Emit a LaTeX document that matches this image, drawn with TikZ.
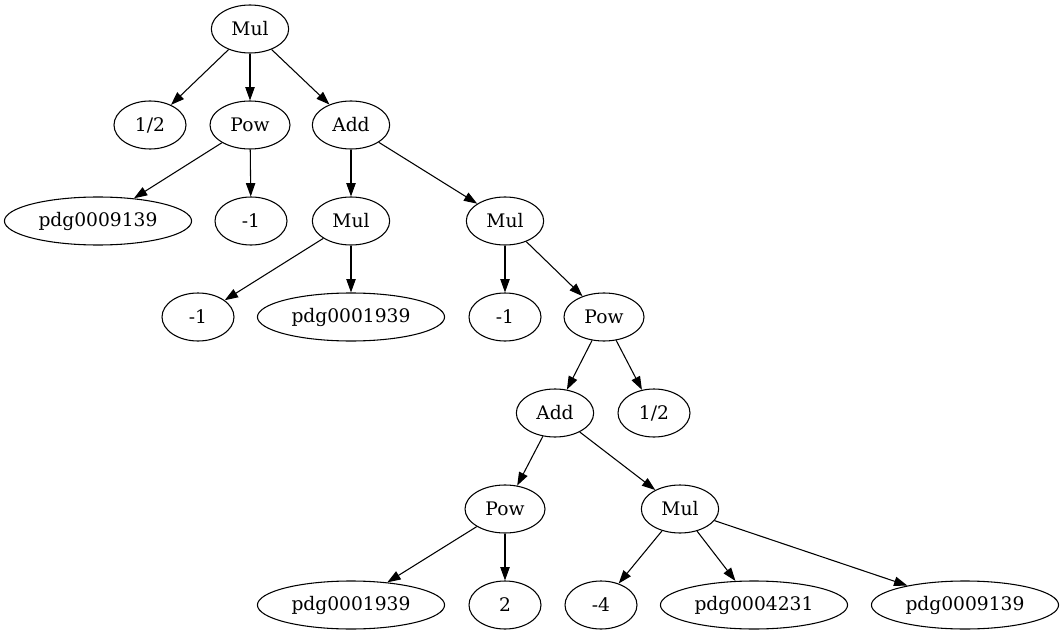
\documentclass[tikz,border=0pt]{standalone}
\usepackage{fontspec}
\setmainfont{DejaVu Serif}
\usetikzlibrary{shapes.geometric}
\usetikzlibrary{arrows.meta}

\begin{document}
\begin{tikzpicture}[x=0.75pt,y=-0.75pt,
  term/.style={draw,ellipse,line width=0.8pt,minimum width=54pt,minimum height=36pt,inner xsep=5pt,inner ysep=2pt,font=\fontsize{14}{16}\selectfont},
  op/.style={term,minimum width=58pt},
  >={Triangle[length=10pt,width=7pt]}, line width=0.8pt]
\useasboundingbox (0,0) rectangle (1061,635);
\node[op] (mulA) at (250,29) {Mul};
\node[term] (halfA) at (150,125) {1/2};
\node[op,minimum width=60pt] (powA) at (250,125) {Pow};
\node[op] (addA) at (351,125) {Add};
\node[term] (pdgA) at (98,221) {pdg0009139};
\node[term] (oneA) at (251,221) {-1};
\node[op] (mulB) at (351,221) {Mul};
\node[op] (mulC) at (505,221) {Mul};
\node[term] (oneB) at (198,317) {-1};
\node[term] (pdgB) at (351,317) {pdg0001939};
\node[term] (oneC) at (505,317) {-1};
\node[op,minimum width=60pt] (powB) at (604,317) {Pow};
\node[op] (addB) at (555,413) {Add};
\node[term] (halfB) at (654,413) {1/2};
\node[op,minimum width=60pt] (powC) at (505,509) {Pow};
\node[op] (mulD) at (680,509) {Mul};
\node[term] (pdgC) at (351,605) {pdg0001939};
\node[term] (two) at (505,605) {2};
\node[term] (four) at (601,605) {-4};
\node[term] (pdgD) at (754,605) {pdg0004231};
\node[term] (pdgE) at (965,605) {pdg0009139};
% edges
\draw[->] (mulA) -- (halfA);
\draw[->] (mulA) -- (powA);
\draw[->] (mulA) -- (addA);
\draw[->] (powA) -- (pdgA);
\draw[->] (powA) -- (oneA);
\draw[->] (addA) -- (mulB);
\draw[->] (addA) -- (mulC);
\draw[->] (mulB) -- (oneB);
\draw[->] (mulB) -- (pdgB);
\draw[->] (mulC) -- (oneC);
\draw[->] (mulC) -- (powB);
\draw[->] (powB) -- (addB);
\draw[->] (powB) -- (halfB);
\draw[->] (addB) -- (powC);
\draw[->] (addB) -- (mulD);
\draw[->] (powC) -- (pdgC);
\draw[->] (powC) -- (two);
\draw[->] (mulD) -- (four);
\draw[->] (mulD) -- (pdgD);
\draw[->] (mulD) -- (pdgE);
\end{tikzpicture}
\end{document}
